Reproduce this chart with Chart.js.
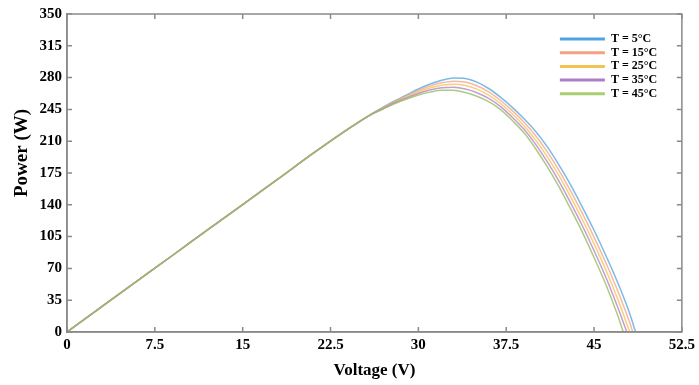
<!DOCTYPE html>
<html>
<head>
<meta charset="utf-8">
<script src="https://cdn.jsdelivr.net/npm/chart.js@4.4.1/dist/chart.umd.min.js"></script>
<style>
  html, body { margin: 0; padding: 0; background: #ffffff; }
  #contenedor { width: 699px; height: 385px; position: relative; }
</style>
</head>
<body>
<div id="contenedor"><canvas id="potenciaChart"></canvas></div>
<script>
// Curvas P-V a distintas temperaturas
const temperaturas = ['T = 5°C', 'T = 15°C', 'T = 25°C', 'T = 35°C', 'T = 45°C'];
const colores = ['#4fa3e0', '#f4a183', '#f3c24f', '#b07cc6', '#a7cf72'];
const coloresLinea = ['rgba(79,163,224,0.75)', 'rgba(244,161,131,0.75)', 'rgba(243,194,79,0.75)',
                      'rgba(176,124,198,0.75)', 'rgba(150,190,100,0.8)'];

const voltaje = [0, 3, 6, 9, 12, 15, 18, 21, 24, 26, 27, 28, 29, 30, 31, 32, 33, 34, 35, 36,
                 37, 38, 39, 40, 41, 42, 43, 44, 45, 46, 47];

const potencia5  = [0, 28.1, 56.2, 84.2, 112.3, 140.3, 168.2, 196.5, 223.5, 240, 247.5, 254.5, 261, 267.5,
                    273, 277, 279.5, 279, 275, 268, 258.5, 247.5, 235, 221, 204, 184, 162, 137.5, 112, 84.5, 55];
const potencia15 = [0, 28.1, 56.2, 84.2, 112.3, 140.3, 168.2, 196.5, 223.5, 239.9, 247, 253.8, 259.9, 265.8,
                    270.8, 274.3, 276.1, 275.1, 271.1, 264.4, 255.1, 243.9, 231.1, 216.3, 198.5, 178, 155.4, 130.6, 104.5, 76.5, 46];
const potencia25 = [0, 28.1, 56.2, 84.2, 112.3, 140.3, 168.2, 196.5, 223.4, 239.8, 246.5, 253, 258.8, 264.2,
                    268.5, 271.5, 272.8, 271.3, 267.3, 260.8, 251.8, 240.3, 227.3, 211.5, 193, 172, 148.8, 123.8, 97, 68.5, 37];
const potencia35 = [0, 28.1, 56.2, 84.2, 112.3, 140.3, 168.2, 196.5, 223.3, 239.6, 246, 252.3, 257.6, 262.5,
                    266.3, 268.8, 269.4, 267.4, 263.4, 257.1, 248.4, 236.6, 223.4, 206.8, 187.5, 166, 142.1, 116.9, 89.5, 60.5, 28];
const potencia45 = [0, 28.1, 56.2, 84.2, 112.3, 140.3, 168.2, 196.5, 223.3, 239.5, 245.5, 251.5, 256.5, 260.8,
                    264, 266, 266, 263.5, 259.5, 253.5, 245, 233, 219.5, 202, 182, 160, 135.5, 110, 82, 52.5, 19];

// Tramo final hasta la tensión de circuito abierto
const colaVoltaje = [[48, 48.55], [48, 48.3], [48.05], [47.8], [47.5]];
const colaPotencia = [[22, 0], [12, 0], [0], [0], [0]];

const ticksX = [0, 7.5, 15, 22.5, 30, 37.5, 45, 52.5];
const ticksY = [0, 35, 70, 105, 140, 175, 210, 245, 280, 315, 350];

const series = [potencia5, potencia15, potencia25, potencia35, potencia45];
const fuente = '"Liberation Serif", "Times New Roman", serif';

function construirPuntos(idx) {
    const puntos = voltaje.map((v, i) => ({ x: v, y: series[idx][i] }));
    colaVoltaje[idx].forEach((v, i) => puntos.push({ x: v, y: colaPotencia[idx][i] }));
    return puntos;
}

// Marco, marcas hacia dentro, leyenda y título vertical
const marcoPlugin = {
    id: 'marco',
    afterDraw(chart) {
        const ctx = chart.ctx;
        const area = chart.chartArea;
        const sx = chart.scales.x;
        const sy = chart.scales.y;
        ctx.save();
        ctx.strokeStyle = '#8a8a8a';
        ctx.lineWidth = 1.5;
        ctx.strokeRect(area.left, area.top, area.right - area.left, area.bottom - area.top);
        ctx.beginPath();
        sx.ticks.forEach((t, i) => {
            const px = sx.getPixelForTick(i);
            ctx.moveTo(px, area.bottom); ctx.lineTo(px, area.bottom - 5);
            ctx.moveTo(px, area.top); ctx.lineTo(px, area.top + 5);
        });
        sy.ticks.forEach((t, i) => {
            const py = sy.getPixelForTick(i);
            ctx.moveTo(area.left, py); ctx.lineTo(area.left + 5, py);
            ctx.moveTo(area.right, py); ctx.lineTo(area.right - 5, py);
        });
        ctx.stroke();

        // leyenda
        ctx.font = 'bold 12px ' + fuente;
        ctx.textBaseline = 'middle';
        ctx.fillStyle = '#000000';
        chart.data.datasets.forEach((ds, i) => {
            const y = area.top + 25 + i * 13.7;
            ctx.strokeStyle = colores[i];
            ctx.lineWidth = 3;
            ctx.beginPath();
            ctx.moveTo(area.right - 122, y);
            ctx.lineTo(area.right - 77, y);
            ctx.stroke();
            ctx.fillText(ds.label, area.right - 71, y);
        });

        // título del eje Y
        ctx.translate(22, 153);
        ctx.rotate(-Math.PI / 2);
        ctx.font = 'bold 19px ' + fuente;
        ctx.textAlign = 'center';
        ctx.fillText('Power (W)', 0, 0);
        ctx.restore();
    }
};

function crearGraficoPotencia() {
    const ctx = document.getElementById('potenciaChart').getContext('2d');
    new Chart(ctx, {
        type: 'line',
        data: {
            datasets: temperaturas.map((t, i) => ({
                label: t,
                data: construirPuntos(i),
                borderColor: coloresLinea[i],
                borderWidth: 1.5,
                pointRadius: 0,
                order: 4 - i,
                cubicInterpolationMode: 'monotone',
                fill: false
            }))
        },
        options: {
            responsive: true,
            maintainAspectRatio: false,
            animation: false,
            layout: { padding: { left: 0, top: 13, right: 15, bottom: 0 } },
            plugins: {
                legend: { display: false },
                tooltip: { enabled: false }
            },
            scales: {
                x: {
                    type: 'linear',
                    min: 0,
                    max: 52.5,
                    afterFit: s => { s.height = 53; },
                    afterBuildTicks: s => { s.ticks = ticksX.map(v => ({ value: v })); },
                    grid: { display: false, drawTicks: false },
                    border: { display: true, color: '#8a8a8a', width: 1.5 },
                    ticks: {
                        padding: 4,
                        color: '#000000',
                        font: { family: fuente, size: 15, weight: 'bold' },
                        callback: v => String(v)
                    },
                    title: {
                        display: true,
                        text: 'Voltage (V)',
                        color: '#000000',
                        font: { family: fuente, size: 17, weight: 'bold' },
                        padding: { top: 0, bottom: 4 }
                    }
                },
                y: {
                    min: 0,
                    max: 350,
                    afterFit: s => { s.width = 67; },
                    afterBuildTicks: s => { s.ticks = ticksY.map(v => ({ value: v })); },
                    grid: { display: false, drawTicks: false },
                    border: { display: true, color: '#8a8a8a', width: 1.5 },
                    ticks: {
                        padding: 5,
                        color: '#000000',
                        font: { family: fuente, size: 15, weight: 'bold' },
                        callback: v => String(v)
                    }
                }
            }
        },
        plugins: [marcoPlugin]
    });
}

document.addEventListener('DOMContentLoaded', crearGraficoPotencia);
</script>
</body>
</html>
